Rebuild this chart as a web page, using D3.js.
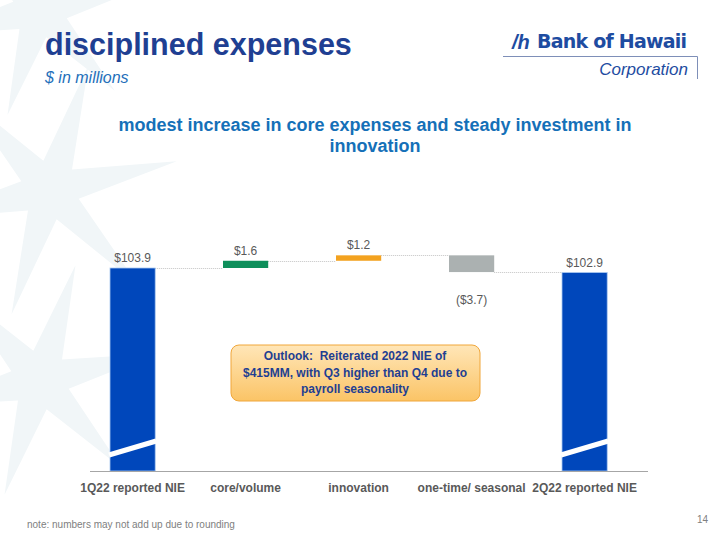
<!DOCTYPE html>
<html>
<head>
<meta charset="utf-8">
<script src="https://cdn.jsdelivr.net/npm/d3@7"></script>
<style>
  body { margin: 0; background: #fff; }
  svg { font-family: Arial, "Liberation Sans", sans-serif; }
</style>
</head>
<body>
<div id="chart"></div>
<script>
// ***** DATA *****
var categories = ["1Q22 reported NIE", "core/volume", "innovation", "one-time/ seasonal", "2Q22 reported NIE"];
var amounts = [103.9, 1.6, 1.2, -3.7, 102.9];
var kinds = ["total", "delta", "delta", "delta", "total"];
var labels = ["$103.9", "$1.6", "$1.2", "($3.7)", "$102.9"];
var barColors = ["#0047BB", "#0E8F5B", "#F3A21F", "#ABB1B1", "#0047BB"];

// ***** CANVAS *****
var svgWidth = 720, svgHeight = 540;
var svg = d3.select("#chart").append("svg")
  .attr("width", svgWidth)
  .attr("height", svgHeight);

// faint background star pattern
var star = function(cx, cy, r1, r2, rot) {
  var pts = [];
  for (var i = 0; i < 12; i++) {
    var r = i % 2 === 0 ? r1 : r2;
    var a = Math.PI / 6 * i - Math.PI / 2 + rot;
    pts.push([cx + r * Math.cos(a), cy + r * Math.sin(a)]);
  }
  return pts;
};
var bg = svg.append("g").attr("fill", "#F1F6F8");
[[50, 190, 130, 30, 0.3], [40, 10, 110, 28, 0.3], [40, 380, 120, 30, 0.3]].forEach(function(s) {
  bg.append("polygon").attr("points", star(s[0], s[1], s[2], s[3], s[4]).join(" "));
});

// ***** HEADER *****
svg.append("text").attr("x", 45).attr("y", 55)
  .attr("font-size", 30.5).attr("font-weight", "bold").attr("fill", "#1F3F92")
  .text("disciplined expenses");
svg.append("text").attr("x", 45).attr("y", 83)
  .attr("font-size", 16).attr("font-style", "italic").attr("fill", "#1E6FBA")
  .text("$ in millions");

// logo
var logo = svg.append("g").attr("fill", "#1E4CA1");
logo.append("text").attr("x", 512).attr("y", 49)
  .attr("font-size", 20).attr("font-weight", "bold").attr("font-style", "italic")
  .text("/h");
logo.append("text").attr("x", 537).attr("y", 48)
  .attr("font-size", 19).attr("font-weight", "bold")
  .attr("font-family", "'DejaVu Sans', sans-serif").attr("textLength", 150)
  .text("Bank of Hawaii");
logo.append("text").attr("x", 688).attr("y", 75).attr("text-anchor", "end")
  .attr("font-size", 17).attr("font-style", "italic")
  .text("Corporation");
logo.append("path").attr("d", "M503,56.5H697.5V79").attr("fill", "none")
  .attr("stroke", "#7E8FB8").attr("stroke-width", 1);

// chart title
svg.append("text").attr("x", 375).attr("y", 131).attr("text-anchor", "middle")
  .attr("font-size", 18).attr("font-weight", "bold").attr("fill", "#1570B8")
  .text("modest increase in core expenses and steady investment in");
svg.append("text").attr("x", 375).attr("y", 152).attr("text-anchor", "middle")
  .attr("font-size", 18).attr("font-weight", "bold").attr("fill", "#1570B8")
  .text("innovation");

// ***** SCALES *****
var x = d3.scaleBand().domain(categories).range([87.4, 629.8]).paddingInner(0.6).paddingOuter(0.2);
var y = d3.scaleLinear().domain([59, 103.9]).range([471, 268]);

// compute waterfall spans
var running = 0;
var steps = amounts.map(function(v, i) {
  var s;
  if (kinds[i] === "total") { s = {lo: y.domain()[0], hi: v, end: v}; running = v; }
  else { var start = running; running += v; s = {lo: Math.min(start, running), hi: Math.max(start, running), end: running}; }
  s.cat = categories[i]; s.color = barColors[i]; s.label = labels[i]; s.value = v;
  return s;
});

// connectors
var conn = svg.append("g").attr("stroke", "#C4C4C4").attr("stroke-dasharray", "1,1").attr("stroke-width", 1);
for (var i = 0; i < steps.length - 1; i++) {
  conn.append("line")
    .attr("x1", x(steps[i].cat) + x.bandwidth())
    .attr("x2", x(steps[i + 1].cat))
    .attr("y1", Math.round(y(steps[i].end)) + 0.5)
    .attr("y2", Math.round(y(steps[i].end)) + 0.5);
}

// bars
svg.append("g").selectAll("rect").data(steps).enter().append("rect")
  .attr("x", function(d) { return x(d.cat); })
  .attr("y", function(d) { return y(d.hi); })
  .attr("width", x.bandwidth())
  .attr("height", function(d) { return y(d.lo) - y(d.hi); })
  .attr("fill", function(d) { return d.color; })
  .attr("stroke", function(d) { return d.value > 50 ? "#A9C8F0" : "none"; })
  .attr("stroke-width", 0.8);

// axis break stripes on total bars
svg.append("g").selectAll("path").data(steps.filter(function(d) { return d.value > 50; })).enter().append("path")
  .attr("d", function(d) {
    var x0 = x(d.cat) - 1, x1 = x(d.cat) + x.bandwidth() + 1;
    return "M" + x0 + "," + 455 + "L" + x1 + "," + 441;
  })
  .attr("stroke", "#fff").attr("stroke-width", 5);

// value labels
svg.append("g").selectAll("text").data(steps).enter().append("text")
  .attr("x", function(d) { return x(d.cat) + x.bandwidth() / 2; })
  .attr("y", function(d) { return d.value < 0 ? y(d.lo) + 32 : y(d.hi) - 6; })
  .attr("text-anchor", "middle").attr("font-size", 12).attr("fill", "#595959")
  .text(function(d) { return d.label; });

// x axis
var xAxis = d3.axisBottom(x).tickSize(0).tickPadding(12);
var gx = svg.append("g").attr("transform", "translate(0,471)").call(xAxis);
gx.select(".domain").attr("stroke", "#A6A6A6").attr("d", "M90,0.5H648");
gx.selectAll("text").attr("font-size", 12).attr("font-weight", "bold").attr("fill", "#595959")
  .attr("font-family", "Arial, 'Liberation Sans', sans-serif");

// ***** CALLOUT *****
var grad = svg.append("defs").append("linearGradient").attr("id", "cg")
  .attr("x1", 0).attr("y1", 0).attr("x2", 0).attr("y2", 1);
grad.append("stop").attr("offset", "0%").attr("stop-color", "#FFE6B8");
grad.append("stop").attr("offset", "100%").attr("stop-color", "#FBC466");
svg.append("rect").attr("x", 231).attr("y", 345).attr("width", 249).attr("height", 56).attr("rx", 8)
  .attr("fill", "url(#cg)").attr("stroke", "#F0A63A").attr("stroke-width", 1);
var callout = ["Outlook:  Reiterated 2022 NIE of", "$415MM, with Q3 higher than Q4 due to", "payroll seasonality"];
svg.append("g").selectAll("text").data(callout).enter().append("text")
  .attr("x", 355).attr("y", function(d, i) { return 360 + i * 16.5; })
  .attr("text-anchor", "middle").attr("font-size", 12).attr("font-weight", "bold").attr("fill", "#1F3F92")
  .style("white-space", "pre")
  .text(function(d) { return d; });

// ***** FOOTER *****
svg.append("text").attr("x", 27).attr("y", 528).attr("font-size", 10).attr("fill", "#808080")
  .text("note: numbers may not add up due to rounding");
svg.append("text").attr("x", 708).attr("y", 523).attr("text-anchor", "end").attr("font-size", 10).attr("fill", "#808080")
  .text("14");
</script>
</body>
</html>
